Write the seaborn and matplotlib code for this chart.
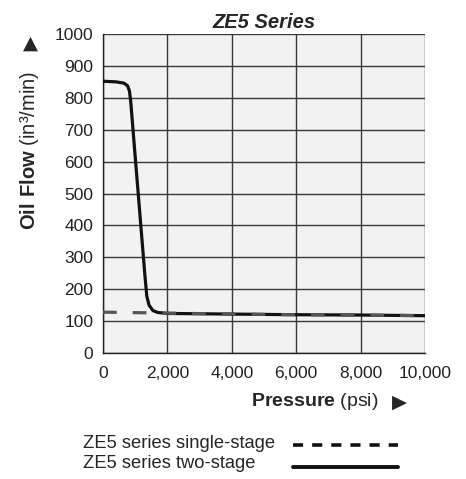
import numpy as np
import pandas as pd
import seaborn as sns
import matplotlib.pyplot as plt
from matplotlib.lines import Line2D

# Data
pressure_two = [0, 400, 650, 760, 820, 860, 1000, 1150, 1300, 1360, 1430, 1550, 1700, 2000,
                4000, 6000, 8000, 10000]
flow_two = [852, 850, 846, 838, 822, 790, 615, 430, 245, 178, 150, 133, 127, 124,
            122, 120, 119, 117]
pressure_single = [0, 2000, 4000, 6000, 8000, 10000]
flow_single = [128, 125, 122, 120, 119, 117]

x_ticks = [0, 2000, 4000, 6000, 8000, 10000]
y_ticks = list(range(0, 1001, 100))

df_two = pd.DataFrame({'pressure': pressure_two, 'flow': flow_two})
df_single = pd.DataFrame({'pressure': pressure_single, 'flow': flow_single})

sns.set_style('white')
plt.rcParams['font.family'] = ['Liberation Sans', 'DejaVu Sans']
plt.rcParams['mathtext.fontset'] = 'custom'
plt.rcParams['mathtext.rm'] = 'Liberation Sans'
plt.rcParams['mathtext.bf'] = 'Liberation Sans:bold'

W, H = 466, 479
fig = plt.figure(figsize=(W / 100, H / 100), dpi=100)
ax = fig.add_axes([103 / W, 1 - 353 / H, 322 / W, 319 / H])
ax.set_facecolor('#f2f2f2')

sns.lineplot(data=df_two, x='pressure', y='flow', ax=ax, color='#111111',
             linewidth=2.3, zorder=3)
sns.lineplot(data=df_single, x='pressure', y='flow', ax=ax, color='#555555',
             linewidth=2.3, zorder=4)
ax.lines[-1].set_dashes((4.3, 5))
for ln in ax.lines:
    ln.set_solid_joinstyle('round')

ax.set_xlim(0, 10000)
ax.set_ylim(0, 1000)
ax.set_xticks(x_ticks)
ax.set_yticks(y_ticks)
ax.set_xticklabels([f'{v:,}' for v in x_ticks])
ax.grid(True, color='#3a3a3a', linewidth=1, zorder=1)
ax.set_axisbelow(True)
for s in ['top', 'right']:
    ax.spines[s].set_visible(False)
for s in ['left', 'bottom']:
    ax.spines[s].set_color('#222222')
    ax.spines[s].set_linewidth(1)
ax.tick_params(axis='y', length=4, width=1, color='#222222', labelsize=12.5, pad=3,
               labelcolor='#222222')
ax.tick_params(axis='x', length=0, labelsize=12.5, pad=9, labelcolor='#222222')
ax.set_xlabel('')
ax.set_ylabel('')

ax.set_title('ZE5 Series', fontsize=14.5, fontweight='bold', fontstyle='italic', pad=4)

# axis titles with arrow glyphs
fig.text(30 / W, 1 - 150 / H, r'$\bf{Oil\ Flow}$ (in³/min)', fontsize=14.5, rotation=90,
         ha='center', va='center')
fig.text(30 / W, 1 - 43 / H, '▲', fontsize=14, family='DejaVu Sans', ha='center', va='center')
fig.text(315 / W, 1 - 402 / H, r'$\bf{Pressure}$ (psi)', fontsize=14, ha='center', va='center')
fig.text(399 / W, 1 - 402 / H, '▶', fontsize=14, family='DejaVu Sans', ha='center', va='center')

# legend drawn manually: labels left, samples right
fig.text(83 / W, 1 - 443 / H, 'ZE5 series single-stage', fontsize=13.2, va='center')
fig.text(83 / W, 1 - 464 / H, 'ZE5 series two-stage', fontsize=13.2, va='center')
fig.add_artist(Line2D([293 / W, 398 / W], [1 - 445 / H] * 2, color='#111111',
                      linewidth=2.6, dashes=(2.8, 2.5)))
fig.add_artist(Line2D([293 / W, 398 / W], [1 - 467 / H] * 2, color='#111111',
                      linewidth=2.8))

fig.savefig('out.png', dpi=100)
